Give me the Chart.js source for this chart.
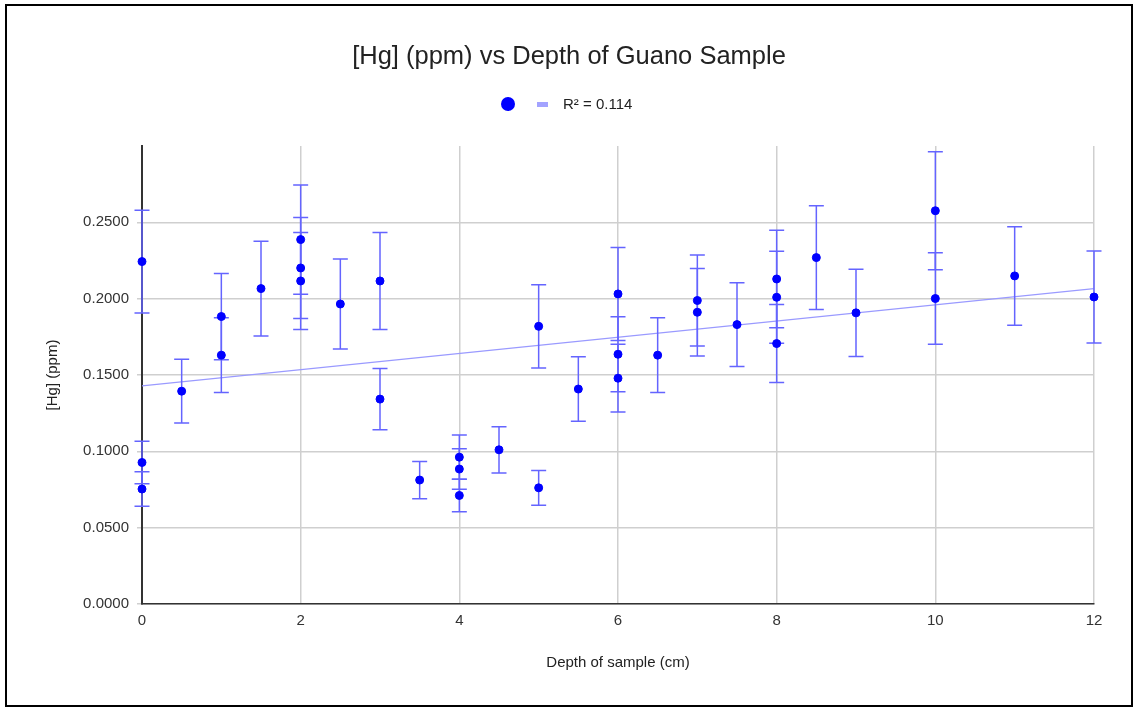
<!DOCTYPE html>
<html>
<head>
<meta charset="utf-8">
<title>[Hg] (ppm) vs Depth of Guano Sample</title>
<script src="https://cdn.jsdelivr.net/npm/chart.js@4.4.0/dist/chart.umd.min.js"></script>
<style>
    html, body { margin: 0; padding: 0; background: #fff; }
    #wrap { position: relative; width: 1135px; height: 708px; font-family: 'Liberation Sans', Arial, sans-serif; }
    #frame { position: absolute; left: 5px; top: 4px; width: 1124px; height: 699px; border: 2px solid #000; pointer-events: none; }
    #legend { position: absolute; left: 0; top: 94px; width: 1135px; height: 20px; }
    .dot { position: absolute; left: 501px; top: 3px; width: 14px; height: 14px; border-radius: 50%; background: #0000ff; }
    .bar { position: absolute; left: 537px; top: 8px; width: 11px; height: 5px; background: #a3a3ff; }
    .lbl { position: absolute; left: 563px; top: 1px; font-size: 15px; line-height: 18px; color: #222; white-space: nowrap; }
</style>
</head>
<body>
<div id="wrap">
    <canvas id="hgChart" width="1135" height="708"></canvas>
    <div id="legend">
        <span class="dot"></span>
        <span class="bar"></span>
        <span class="lbl">R² = 0.114</span>
    </div>
    <div id="frame"></div>
</div>
<script>
    // samples: depth (cm) and [Hg] (ppm)
    const depth = [0, 0, 0, 0.5, 1, 1, 1.5, 2, 2, 2, 2.5, 3, 3, 3.5, 4, 4, 4, 4.5, 5, 5,
        5.5, 6, 6, 6, 6.5, 7, 7, 7.5, 8, 8, 8, 8.5, 9, 10, 10, 11, 12];
    const hg = [0.2243, 0.0927, 0.0753, 0.1394, 0.1883, 0.1630, 0.2066, 0.2387, 0.2201, 0.2116,
        0.1965, 0.2116, 0.1342, 0.0812, 0.0962, 0.0884, 0.0711, 0.1010, 0.1819, 0.0761,
        0.1408, 0.2031, 0.1636, 0.1479, 0.1630, 0.1988, 0.1911, 0.1830, 0.2129, 0.2009,
        0.1706, 0.2269, 0.1907, 0.2576, 0.2001, 0.2149, 0.2011];

    // linear trendline as shown (R² = 0.114)
    const trendX = [0, 12];
    const trendY = [0.1429, 0.2066];

    // error bars are a fixed percentage of each value
    const errorPercent = 15;

    const yTicks = [0, 0.05, 0.1, 0.15, 0.2, 0.25];
    const xTicks = [0, 2, 4, 6, 8, 10, 12];

    Chart.defaults.font.family = "'Liberation Sans', Arial, sans-serif";
    Chart.defaults.color = '#333';

    const errorBars = {
        id: 'errorBars',
        afterDatasetDraw(chart, args) {
            if (args.index !== 1) return;
            const { ctx, scales: { x, y } } = chart;
            const cap = 7.5;
            ctx.save();
            ctx.strokeStyle = '#6464ff';
            ctx.lineWidth = 1.5;
            depth.forEach((d, i) => {
                const px = x.getPixelForValue(d);
                const top = y.getPixelForValue(hg[i] * (1 + errorPercent / 100));
                const bot = y.getPixelForValue(hg[i] * (1 - errorPercent / 100));
                ctx.beginPath();
                ctx.moveTo(px, top);
                ctx.lineTo(px, bot);
                ctx.moveTo(px - cap, top);
                ctx.lineTo(px + cap, top);
                ctx.moveTo(px - cap, bot);
                ctx.lineTo(px + cap, bot);
                ctx.stroke();
            });
            ctx.restore();
        }
    };

    function isTop(v) {
        return Math.abs(v - 0.3) < 1e-9;
    }

    new Chart('hgChart', {
        type: 'scatter',
        data: {
            datasets: [{
                label: 'Hg',
                data: depth.map((d, i) => ({ x: d, y: hg[i] })),
                backgroundColor: '#0000ff',
                borderColor: '#0000ff',
                pointRadius: 4,
                pointHoverRadius: 4,
                clip: false,
                order: 1
            }, {
                type: 'line',
                label: 'R² = 0.114',
                data: trendX.map((d, i) => ({ x: d, y: trendY[i] })),
                borderColor: '#9a9aff',
                borderWidth: 1.2,
                pointRadius: 0,
                fill: false,
                order: 2
            }]
        },
        options: {
            responsive: false,
            animation: false,
            layout: { padding: { left: 44, right: 41, top: 0, bottom: 36 } },
            plugins: {
                legend: { display: false },
                tooltip: { enabled: false },
                title: {
                    display: true,
                    text: '[Hg] (ppm) vs Depth of Guano Sample',
                    color: '#222',
                    font: { size: 25.5, weight: 'normal' },
                    padding: { top: 42, bottom: 73.4 }
                }
            },
            scales: {
                x: {
                    type: 'linear',
                    min: 0,
                    max: 12,
                    afterBuildTicks: s => { s.ticks = xTicks.map(v => ({ value: v })); },
                    afterFit: s => { s.height = 68; },
                    ticks: { padding: 8, font: { size: 15 }, color: '#333' },
                    grid: { color: '#cfcfcf', lineWidth: 1.5, drawTicks: false },
                    border: { color: '#333', width: 1.5 },
                    title: {
                        display: true,
                        text: 'Depth of sample (cm)',
                        color: '#222',
                        font: { size: 15 },
                        padding: { top: 0, bottom: 0 }
                    }
                },
                y: {
                    min: 0,
                    max: 0.3,
                    afterBuildTicks: s => { s.ticks = yTicks.concat([0.3]).map(v => ({ value: v })); },
                    afterFit: s => { s.width = 98; },
                    ticks: {
                        padding: 8,
                        font: { size: 15 },
                        color: '#333',
                        callback: v => isTop(v) ? '' : v.toFixed(4)
                    },
                    grid: {
                        color: c => (c.tick && isTop(c.tick.value)) ? 'rgba(0,0,0,0)' : '#cfcfcf',
                        lineWidth: 1.5,
                        tickLength: 5
                    },
                    border: { color: '#333', width: 2 },
                    title: {
                        display: true,
                        text: '[Hg] (ppm)',
                        color: '#222',
                        font: { size: 15 },
                        padding: { top: 0, bottom: 0 }
                    }
                }
            }
        },
        plugins: [errorBars]
    });
</script>
</body>
</html>
